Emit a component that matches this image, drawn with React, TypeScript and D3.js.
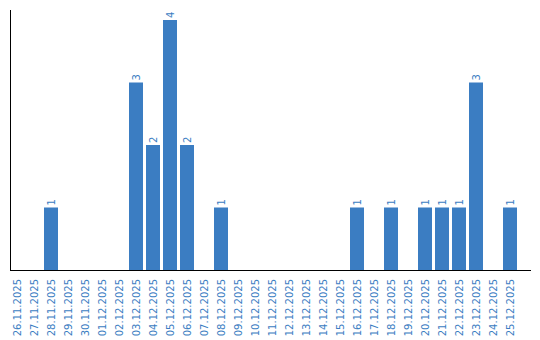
import React from "react";
import * as d3 from "d3";

const dates = [
  "26.11.2025", "27.11.2025", "28.11.2025", "29.11.2025", "30.11.2025",
  "01.12.2025", "02.12.2025", "03.12.2025", "04.12.2025", "05.12.2025",
  "06.12.2025", "07.12.2025", "08.12.2025", "09.12.2025", "10.12.2025",
  "11.12.2025", "12.12.2025", "13.12.2025", "14.12.2025", "15.12.2025",
  "16.12.2025", "17.12.2025", "18.12.2025", "19.12.2025", "20.12.2025",
  "21.12.2025", "22.12.2025", "23.12.2025", "24.12.2025", "25.12.2025",
];
const counts = [
  0, 0, 1, 0, 0,
  0, 0, 3, 2, 4,
  2, 0, 1, 0, 0,
  0, 0, 0, 0, 0,
  1, 0, 1, 0, 1,
  1, 1, 3, 0, 1,
];

const W = 540;
const H = 340;
const left = 10;
const top = 10;
const baseY = 270;
const axisRight = 531;
const color = "#3b7dc2";
const font = "'DejaVu Sans', Verdana, sans-serif";

export default function App() {
  const x = d3.scaleBand<string>().domain(dates).range([10, 517]).paddingInner(3 / 17).paddingOuter(0);
  const y = d3.scaleLinear().domain([0, 4.16]).range([baseY, top]);

  return (
    <svg width={W} height={H} style={{ position: "absolute", left: 0, top: 0 }}>
      {dates.map((d, i) =>
        counts[i] > 0 ? (
          <rect key={"b" + d} x={x(d)} y={y(counts[i])} width={x.bandwidth()} height={baseY - y(counts[i])} fill={color} />
        ) : null
      )}
      {dates.map((d, i) =>
        counts[i] > 0 ? (
          <text
            key={"v" + d}
            transform={`translate(${(x(d) as number) + x.bandwidth() / 2},${y(counts[i]) - 2}) rotate(-90)`}
            dy="0.35em"
            textAnchor="start"
            fontFamily={font}
            fontSize={10}
            fill={color}
          >
            {counts[i]}
          </text>
        ) : null
      )}
      <line x1={left + 0.5} x2={left + 0.5} y1={top} y2={baseY} stroke="#000" strokeWidth={1} />
      <line x1={left} x2={axisRight} y1={baseY + 0.5} y2={baseY + 0.5} stroke="#000" strokeWidth={1} />
      {dates.map((d) => (
        <text
          key={"l" + d}
          transform={`translate(${(x(d) as number) + x.bandwidth() / 2},${baseY + 9}) rotate(-90)`}
          dy="0.35em"
          textAnchor="end"
          fontFamily={font}
          fontSize={10}
          fill={color}
        >
          {d}
        </text>
      ))}
    </svg>
  );
}
